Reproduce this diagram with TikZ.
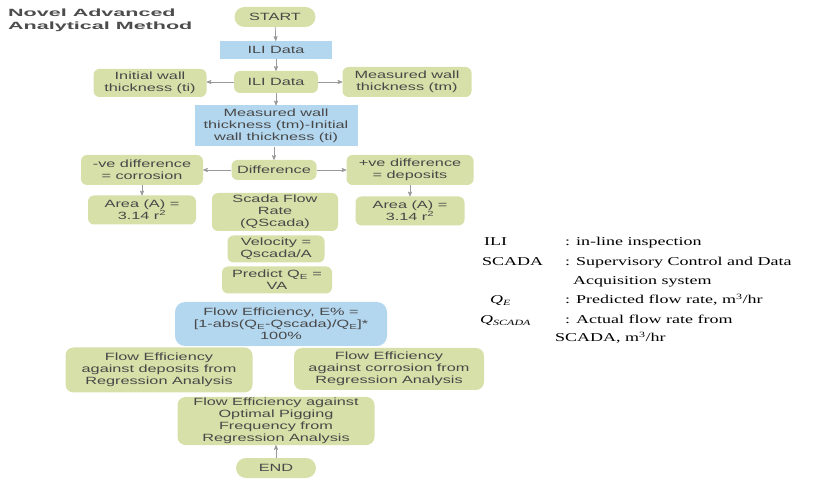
\documentclass[tikz,border=0pt]{standalone}
\usepackage{fontspec}
\setmainfont{Liberation Sans}[FakeStretch=1.55]
\newfontfamily\titlefont{Liberation Sans}[FakeStretch=2.05]
\newfontfamily\legendfont{Liberation Serif}[FakeStretch=1.5]
\usetikzlibrary{arrows}
\definecolor{boxgreen}{RGB}{214,224,168}
\definecolor{boxblue}{RGB}{180,215,240}
\definecolor{txtgray}{RGB}{72,72,72}
\tikzset{
>=stealth',
flow/.style={->, draw=black!40, line width=0.7pt},
boxsize/.style 2 args={minimum width=#1, minimum height=#2},
greenbox/.style={%
    rectangle,
    rounded corners=6pt,
    fill=boxgreen,
    text=txtgray,
    align=center,
    inner sep=0pt,
    font=\fontsize{10.5}{12}\selectfont
},
bluebox/.style={greenbox, rounded corners=0pt, fill=boxblue},
terminal/.style={greenbox, rounded corners=10pt},
legend/.style={anchor=base west, inner sep=0pt, text=black, font=\legendfont\fontsize{12}{14}\selectfont},
}

\begin{document}
\begin{tikzpicture}[x=1pt, y=-1pt]
\useasboundingbox (0,0) rectangle (815,481);

% title
\node[anchor=north west, inner sep=0pt, align=left, text=black!70, font=\titlefont\bfseries\fontsize{10.5}{13}\selectfont] (title) at (8,9) {Novel Advanced\\Analytical Method};

% main column
\node[terminal, boxsize={81}{20}] (start) at (275,17) {START};
\node[bluebox, boxsize={112}{18}] (ilia) at (276,50) {ILI Data};
\node[greenbox, boxsize={84}{22}] (ilib) at (276,82) {ILI Data};
\node[greenbox, boxsize={113}{28}] (initwall) at (150,83) {Initial wall\\thickness (ti)};
\node[greenbox, boxsize={129}{30}] (measwall) at (407,82) {Measured wall\\thickness (tm)};
\node[bluebox, boxsize={163}{41}] (subtract) at (276,126) {Measured wall\\thickness (tm)-Initial\\wall thickness (ti)};
\node[greenbox, boxsize={85}{20}] (diff) at (274,170) {Difference};
\node[greenbox, boxsize={122}{30}] (negdiff) at (142,170) {-ve difference\\= corrosion};
\node[greenbox, boxsize={127}{30}] (posdiff) at (410,170) {+ve difference\\= deposits};
\node[greenbox, boxsize={108}{29}] (arealeft) at (142,210) {Area (A) =\\3.14 r\textsuperscript{2}};
\node[greenbox, boxsize={126}{38}] (scada) at (275,212) {Scada Flow\\Rate\\(QScada)};
\node[greenbox, boxsize={109}{29}] (arearight) at (410,211) {Area (A) =\\3.14 r\textsuperscript{2}};
\node[greenbox, boxsize={97}{27}] (velocity) at (276,249) {Velocity =\\Qscada/A};
\node[greenbox, boxsize={110}{27}] (predict) at (277,280) {Predict Q\textsubscript{E} =\\VA};
\node[bluebox, rounded corners=10pt, boxsize={212}{44}] (effic) at (281,324) {Flow Efficiency, E\% =\\{}[1-abs(Q\textsubscript{E}-Qscada)/Q\textsubscript{E}]*\\100\%};
\node[greenbox, rounded corners=8pt, boxsize={187}{45}] (fedepo) at (159,370) {Flow Efficiency\\against deposits from\\Regression Analysis};
\node[greenbox, rounded corners=8pt, boxsize={190}{42}] (fecorr) at (389,369) {Flow Efficiency\\against corrosion from\\Regression Analysis};
\node[greenbox, rounded corners=8pt, boxsize={197}{48}] (fepig) at (276,421) {Flow Efficiency against\\Optimal Pigging\\Frequency from\\Regression Analysis};
\node[terminal, boxsize={80}{20}] (finish) at (276,468) {END};

% connectors
\draw[flow] (start) -- (ilia);
\draw[flow] (ilia) -- (ilib);
\draw[flow] (ilib.west) -- (initwall.east |- ilib.west);
\draw[flow] (ilib.east) -- (measwall.west |- ilib.east);
\draw[flow] (ilib) -- (subtract);
\draw[flow] (subtract.south -| diff.north) -- (diff.north);
\draw[flow] (diff.west) -- (negdiff.east);
\draw[flow] (diff.east) -- (posdiff.west);
\draw[flow] (negdiff) -- (arealeft);
\draw[flow] (posdiff) -- (arearight);
\draw[flow] (finish) -- (fepig);

% legend
\node[legend] (lgili) at (484,246) {ILI};
\node[legend] (lgilitxt) at (565,246) {: in-line inspection};
\node[legend] (lgscada) at (482,266) {SCADA};
\node[legend] (lgscadatxt) at (565,266) {: Supervisory Control and Data};
\node[legend] (lgscadatxtb) at (573,285) {Acquisition system};
\node[legend] (lgqe) at (490,304) {\itshape Q\textsubscript{E}};
\node[legend] (lgqetxt) at (565,304) {: Predicted flow rate, m\textsuperscript{3}/hr};
\node[legend] (lgqs) at (480,324) {\itshape Q\textsubscript{SCADA}};
\node[legend] (lgqstxt) at (565,324) {: Actual flow rate from};
\node[legend] (lgqstxtb) at (555,342) {SCADA, m\textsuperscript{3}/hr};
\end{tikzpicture}
\end{document}
